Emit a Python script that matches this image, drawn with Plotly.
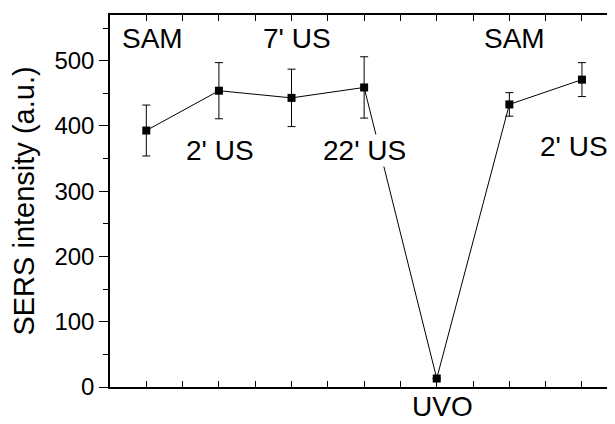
import plotly.graph_objects as go

# Data
x_pos = [1, 3, 5, 7, 9, 11, 13]
intensity = [393, 454, 443, 459, 13, 433, 471]
err = [39, 43, 44, 47, 0, 18, 26]

labels = ["SAM", "2' US", "7' US", "22' US", "SAM", "2' US"]
label_x = [1.16, 3.03, 5.15, 7.02, 11.13, 12.78]
label_y = [534, 363, 534, 363, 534, 368]
bottom_label = "UVO"
bottom_label_x = 9.15

y_ticks = [0, 100, 200, 300, 400, 500]
y_minor = [50, 150, 250, 350, 450, 550]

FONT = "Liberation Sans, Arial, sans-serif"

fig = go.Figure()
fig.add_trace(go.Scatter(
    x=x_pos, y=intensity,
    mode="lines+markers",
    line=dict(color="black", width=1),
    marker=dict(symbol="square", size=8, color="black"),
    error_y=dict(type="data", array=err, visible=True, color="black",
                 thickness=1, width=4),
    cliponaxis=False,
    showlegend=False,
))

for t, lx, ly in zip(labels, label_x, label_y):
    fig.add_annotation(x=lx, y=ly, xref="x", yref="y", text=t,
                       showarrow=False, bgcolor="white",
                       font=dict(family=FONT, size=28, color="black"),
                       borderpad=0)

fig.add_annotation(x=bottom_label_x, y=-0.052, xref="x", yref="paper",
                   text=bottom_label, showarrow=False, yanchor="middle",
                   borderpad=0,
                   font=dict(family=FONT, size=28, color="black"))

fig.update_layout(
    width=607, height=416,
    margin=dict(l=102, r=0, t=7, b=37),
    paper_bgcolor="white", plot_bgcolor="white",
    font=dict(family=FONT, color="black"),
    xaxis=dict(range=[0, 13.91], showline=True, linecolor="black", linewidth=1.5,
               mirror="ticks", ticks="inside", ticklen=6, tickwidth=1,
               tickcolor="black", dtick=1, tick0=0, showticklabels=False,
               showgrid=False, zeroline=False),
    yaxis=dict(range=[0, 570], showline=True, linecolor="black", linewidth=1.5,
               ticks="outside", ticklen=9, tickwidth=1, tickcolor="black",
               tickvals=y_ticks, tickfont=dict(size=24, family=FONT),
               showgrid=False, zeroline=False,
               minor=dict(tickvals=y_minor, ticks="outside",
                          ticklen=5, tickwidth=1, tickcolor="black"),
               title=dict(text="SERS intensity (a.u.)",
                          font=dict(size=29, family=FONT), standoff=14)),
)

fig.write_html("out.html")
